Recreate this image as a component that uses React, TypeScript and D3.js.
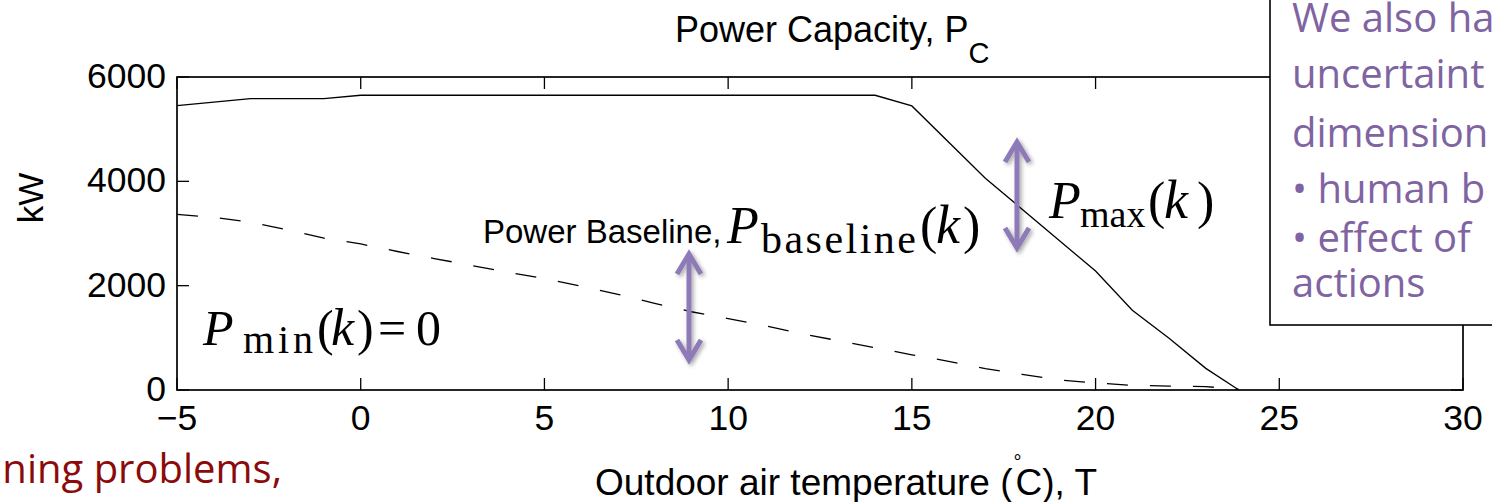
import React from "react";
import * as d3 from "d3";

// Power capacity P_max(k) versus outdoor air temperature (solid line)
const capTemps = [-5, -3, -1, 0, 14, 15, 17, 20, 21, 22, 23, 23.9];
const capKW = [5450, 5585, 5585, 5650, 5650, 5445, 4060, 2280, 1530, 990, 415, 0];

// Power baseline P_baseline(k) (dashed line)
const baseTemps = [-5, -4, -3, -2, -1, 0, 1, 2, 3, 4, 5, 6, 7, 8, 9, 10, 11, 12, 13, 14, 15, 16, 17, 18, 19, 20, 21, 22, 23, 23.9];
const baseKW = [3367, 3310, 3215, 3070, 2910, 2800, 2655, 2520, 2390, 2255, 2135, 1990, 1835, 1660, 1500, 1370, 1235, 1080, 945, 810, 675, 550, 410, 300, 192, 135, 88, 76, 66, 10];

const xTicks = [-5, 0, 5, 10, 15, 20, 25, 30];
const yTicks = [0, 2000, 4000, 6000];

const boxLines = ["We also ha", "uncertaint", "dimension", "\u2022 human b", "\u2022 effect of", "actions"];
const boxBaselines = [32, 88, 147, 203, 252, 297];

const W = 1492;
const H = 502;
const SANS = "'Liberation Sans', Arial, Helvetica, sans-serif";
const SERIF = "'Liberation Serif', 'Times New Roman', serif";
const SLIDE = "'Open Sans', Lato, sans-serif";
const PURPLE = "#8064A2";
const ARROW = "#8E7AB7";

function Arrow({ x, y1, y2 }: { x: number; y1: number; y2: number }) {
  const hw = 12;
  const hh = 22;
  return (
    <g stroke={ARROW} strokeWidth={5} fill="none" filter="url(#shadow)" strokeLinejoin="miter" strokeMiterlimit={10}>
      <line x1={x} x2={x} y1={y1 + 3} y2={y2 - 3} />
      <path d={`M${x - hw},${y1 + hh} L${x},${y1 + 2} L${x + hw},${y1 + hh}`} />
      <path d={`M${x - hw},${y2 - hh} L${x},${y2 - 2} L${x + hw},${y2 - hh}`} />
    </g>
  );
}

export default function App() {
  const x = d3.scaleLinear().domain([-5, 30]).range([177, 1463]);
  const y = d3.scaleLinear().domain([0, 6000]).range([390, 77]);
  const fmt = d3.format("d");

  const line = d3
    .line<[number, number]>()
    .x((d) => x(d[0]))
    .y((d) => y(d[1]));

  const capPath = line(capTemps.map((t, i) => [t, capKW[i]] as [number, number])) || "";
  const basePath = line(baseTemps.map((t, i) => [t, baseKW[i]] as [number, number])) || "";

  const [x0, x1] = x.range();
  const [yb, yt] = y.range();
  const tick = 12;

  return (
    <svg
      width={W}
      height={H}
      viewBox={`0 0 ${W} ${H}`}
      style={{ position: "absolute", left: 0, top: 0, background: "#fff" }}
    >
      <defs>
        <filter id="shadow" x="-50%" y="-20%" width="200%" height="140%">
          <feDropShadow dx={2} dy={2} stdDeviation={2} floodColor="#000" floodOpacity={0.35} />
        </filter>
      </defs>
      <rect x={0} y={0} width={W} height={H} fill="#fff" />

      {/* title */}
      <text x={675} y={42} fontFamily={SANS} fontSize={36} fill="#000">
        Power Capacity, P
        <tspan dy={21} fontSize={29}>C</tspan>
      </text>

      {/* data */}
      <path d={capPath} fill="none" stroke="#000" strokeWidth={1.3} />
      <path d={basePath} fill="none" stroke="#000" strokeWidth={1.3} strokeDasharray="21 22" />

      {/* axes frame */}
      <rect x={x0} y={yt} width={x1 - x0} height={yb - yt} fill="none" stroke="#000" strokeWidth={1.7} />
      {xTicks.map((t) => (
        <g key={`xt${t}`}>
          <line x1={x(t)} x2={x(t)} y1={yb} y2={yb - tick} stroke="#000" strokeWidth={1.3} />
          <line x1={x(t)} x2={x(t)} y1={yt} y2={yt + tick} stroke="#000" strokeWidth={1.3} />
          <text x={x(t)} y={430} textAnchor="middle" fontFamily={SANS} fontSize={35.5} fill="#000">
            {t < 0 ? "\u2212" + fmt(-t) : fmt(t)}
          </text>
        </g>
      ))}
      {yTicks.map((v) => (
        <g key={`yt${v}`}>
          <line x1={x0} x2={x0 + tick} y1={y(v)} y2={y(v)} stroke="#000" strokeWidth={1.3} />
          <line x1={x1} x2={x1 - tick} y1={y(v)} y2={y(v)} stroke="#000" strokeWidth={1.3} />
          <text x={166} y={y(v) + 11} textAnchor="end" fontFamily={SANS} fontSize={35.5} fill="#000">
            {fmt(v)}
          </text>
        </g>
      ))}

      {/* axis labels */}
      <text transform="translate(43,198) rotate(-90)" textAnchor="middle" fontFamily={SANS} fontSize={35} fill="#000">
        kW
      </text>
      <text x={595} y={495} fontFamily={SANS} fontSize={37} fill="#000">
        Outdoor air temperature (
        <tspan dy={-26} dx={1} fontSize={20}>°</tspan>
        <tspan dy={26} dx={-6}>C), T</tspan>
      </text>

      {/* annotations */}
      <text x={483} y={243} fontFamily={SANS} fontSize={33} fill="#000">
        Power Baseline,
      </text>
      <g fontFamily={SERIF} fill="#000">
        <text x={727} y={243} fontSize={52} fontStyle="italic">P</text>
        <text x={761} y={253} fontSize={42} textLength={155} lengthAdjust="spacing">baseline</text>
        <text x={920} y={243} fontSize={52}>(</text>
        <text x={936} y={243} fontSize={54} fontStyle="italic">k</text>
        <text x={963} y={243} fontSize={52}>)</text>

        <text x={1049} y={218} fontSize={52} fontStyle="italic">P</text>
        <text x={1080} y={227} fontSize={38}>max</text>
        <text x={1148} y={218} fontSize={52}>(</text>
        <text x={1164} y={218} fontSize={54} fontStyle="italic">k</text>
        <text x={1197} y={218} fontSize={52}>)</text>

        <text x={203} y={345} fontSize={50} fontStyle="italic">P</text>
        <text x={243} y={353} fontSize={40} textLength={70} lengthAdjust="spacing">min</text>
        <text x={317} y={345} fontSize={50}>(</text>
        <text x={331} y={345} fontSize={52} fontStyle="italic">k</text>
        <text x={357} y={345} fontSize={50}>)</text>
        <text x={378} y={345} fontSize={50}>=</text>
        <text x={416} y={345} fontSize={50}>0</text>
      </g>

      <Arrow x={689} y1={252} y2={362} />
      <Arrow x={1017} y1={140} y2={250} />

      {/* slide text box overlapping the chart */}
      <rect x={1270} y={-10} width={260} height={335} fill="#fff" stroke="#000" strokeWidth={1.6} />
      <g fontFamily={SLIDE} fontSize={40} fill={PURPLE}>
        {boxLines.map((s, i) => (
          <text key={s} x={1292} y={boxBaselines[i]}>
            {s}
          </text>
        ))}
      </g>

      {/* slide body text fragment */}
      <text x={282} y={483} textAnchor="end" fontFamily={SLIDE} fontSize={40} fill="#8B0A0A">
        ning problems,
      </text>
    </svg>
  );
}
